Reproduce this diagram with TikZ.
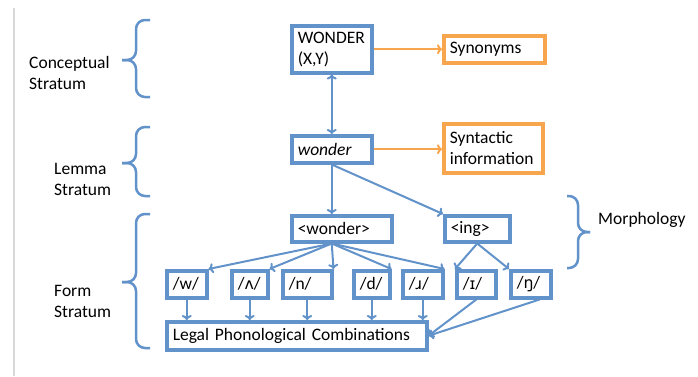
\documentclass[tikz,border=0pt]{standalone}
\usepackage{fontspec}
\setmainfont{Carlito}
\newfontfamily\ipafont[Scale=0.9]{DejaVu Sans}
\newcommand\ipach[1]{{\ipafont #1}}
\usetikzlibrary{arrows.meta}
\definecolor{boxblue}{RGB}{98,146,202}
\definecolor{boxorange}{RGB}{247,166,78}
\tikzset{
	box/.style={draw=boxblue, line width=3.5pt, anchor=north west, align=left, inner xsep=6pt, inner ysep=0pt},
	obox/.style={box, draw=boxorange},
	link/.style={draw=boxblue, line width=2pt, -{To[length=5pt,width=10pt]}},
	olink/.style={link, draw=boxorange},
	strat/.style={draw=boxblue, line width=2.5pt, rounded corners=9pt},
	stratlabel/.style={anchor=west, align=left, inner sep=0pt}
}

\begin{document}
\begin{tikzpicture}[x=1pt, y=-1pt, font=\fontsize{17.5}{21}\selectfont]
	\useasboundingbox (0,0) rectangle (698,376);
	\draw[gray!30, line width=1.5pt] (14,8) -- (14,376);

	% Define the nodes with specific positions
	\node[box, text width=68pt, minimum height=47pt] (concept) at (290,24) {WONDER\\(X,Y)};
	\node[obox, text width=89pt, minimum height=27pt] (synonyms) at (442,34) {Synonyms};
	\node[box, text width=68pt, minimum height=27pt] (lemma) at (290,134) {\itshape wonder};
	\node[obox, text width=87pt, minimum height=49pt] (syntactic) at (442,122) {Syntactic\\information};

	\node[box, text width=88pt, minimum height=26pt] (mWonder) at (290,214) {<wonder>};
	\node[box, text width=53pt, minimum height=26pt] (mIng) at (443,214) {<ing>};

	\node[box, text width=28pt, minimum height=27pt] (pw) at (165,269) {/w/};
	\node[box, text width=24pt, minimum height=27pt] (pv) at (230,269) {/\ipach{ʌ}/};
	\node[box, text width=37pt, minimum height=27pt] (pn) at (281,269) {/n/};
	\node[box, text width=24pt, minimum height=27pt] (pd) at (352,269) {/d/};
	\node[box, text width=28pt, minimum height=27pt] (pr) at (401,269) {/\ipach{ɹ}/};
	\node[box, text width=27pt, minimum height=27pt] (pi) at (455,269) {/\ipach{ɪ}/};
	\node[box, text width=28pt, minimum height=27pt] (png) at (509,269) {/\ipach{ŋ}/};

	\node[box, text width=248pt, minimum height=28pt] (legal) at (165,320) {Legal Phonological Combinations};

	% Strata braces and labels
	\foreach \top/\tip/\bot in {20/60/97, 127/163/196, 214/282/348} {
		\draw[strat] (150,\top) -| (136,\tip) -- (122,\tip);
		\draw[strat] (150,\bot) -| (136,\tip) -- (122,\tip);
	}
	\draw[strat] (567,196) -| (578,232) -- (590,232);
	\draw[strat] (567,268) -| (578,232) -- (590,232);

	\node[stratlabel] (labConcept) at (29,73) {Conceptual\\Stratum};
	\node[stratlabel] (labLemma) at (54,179) {Lemma\\Stratum};
	\node[stratlabel] (labForm) at (54,301) {Form\\Stratum};
	\node[stratlabel] (labMorph) at (598,220) {Morphology};

	% Draw the links between the nodes
	\draw[link, {To[length=5pt,width=10pt]}-{To[length=5pt,width=10pt]}] (concept) -- (lemma);
	\draw[olink] (concept) -- (synonyms);
	\draw[olink] (lemma.east) -- (lemma.east -| syntactic.west);
	\draw[link] (lemma) -- (lemma |- mWonder.north);
	\draw[link] (lemma.south) -- (mIng.north west);

	\coordinate (fan) at (lemma |- mWonder.south);
	\foreach \p in {pw,pv,pn,pd,pr}
		\draw[link] (fan) -- (\p.north east);
	\draw[link] (mIng.south) -- (pi.north west);
	\draw[link] (mIng.south) -- (png.north west);

	\foreach \p in {pw,pv,pn,pd,pr}
		\draw[link] (\p) -- (\p |- legal.north);
	\draw[link] (pi.south) -- (legal.east);
	\draw[link] (png.-60) -- (legal.east);
\end{tikzpicture}
\end{document}
